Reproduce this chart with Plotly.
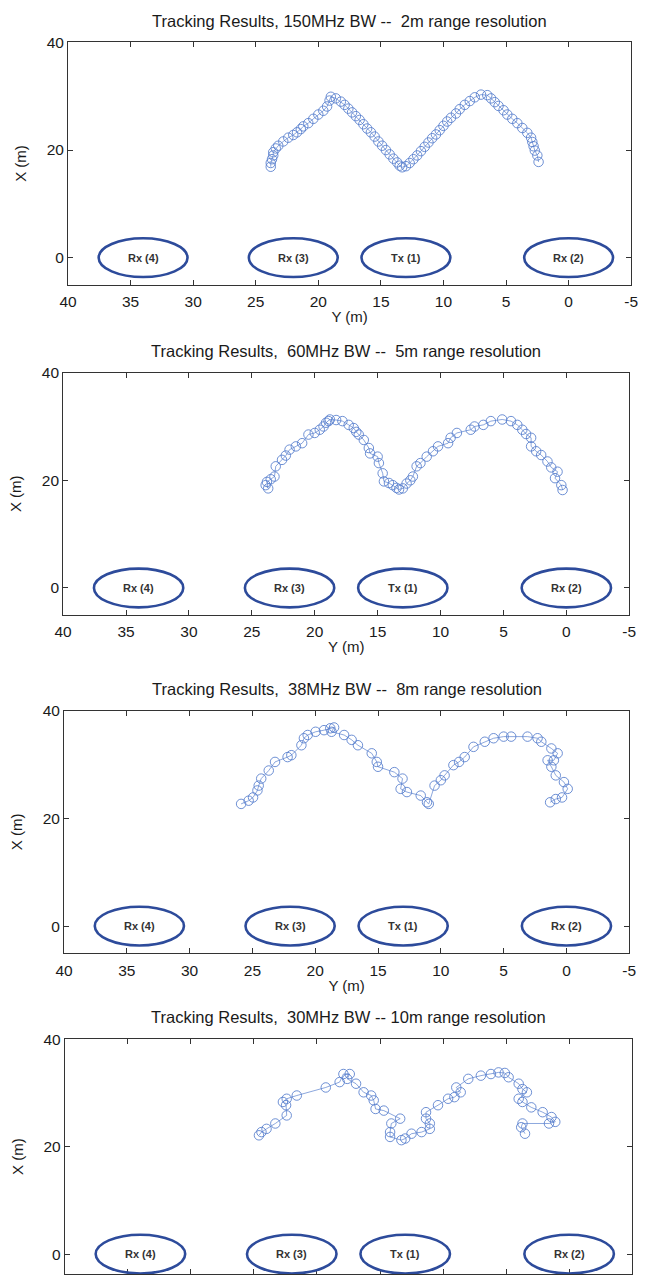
import plotly.graph_objects as go

W, H = 646, 1287

titles = [
    "Tracking Results, 150MHz BW --  2m range resolution",
    "Tracking Results,  60MHz BW --  5m range resolution",
    "Tracking Results,  38MHz BW --  8m range resolution",
    "Tracking Results,  30MHz BW -- 10m range resolution",
]

# Node (antenna) positions: Y coordinate (m), X coordinate (m), labels
node_labels = ["Rx (4)", "Rx (3)", "Tx (1)", "Rx (2)"]
node_y = [34.0, 22.0, 13.0, 0.0]
node_x = [0.0, 0.0, 0.0, 0.0]
node_half_w = 3.55
node_half_h = 3.6

x_ticks = [40, 35, 30, 25, 20, 15, 10, 5, 0, -5]
y_ticks = [0, 20, 40]

# Track 1: 150 MHz
t1_y = [23.8, 23.8, 23.7, 23.6, 23.6, 23.4, 23.2, 22.8, 22.4, 22.0, 21.7, 21.4, 21.2, 20.8, 20.4, 20.0, 19.6, 19.3, 19.1, 19.0,
        18.6, 18.2, 17.9, 17.6, 17.3, 17.0, 16.7, 16.4, 16.1, 15.8, 15.5, 15.2, 14.9, 14.6, 14.3, 14.0, 13.7, 13.5, 13.3,
        13.0, 12.7, 12.4, 12.1, 11.8, 11.5, 11.2, 10.9, 10.6, 10.3, 10.0, 9.7, 9.4, 9.0, 8.7, 8.3, 7.9, 7.5, 7.0, 6.5,
        6.2, 5.9, 5.6, 5.2, 4.9, 4.5, 4.1, 3.7, 3.3, 3.0, 2.9, 2.8, 2.7, 2.5, 2.4]
t1_x = [16.9, 17.6, 18.3, 19.0, 19.6, 20.3, 20.8, 21.6, 22.3, 22.8, 23.3, 23.9, 24.4, 25.0, 25.8, 26.6, 27.3, 28.1, 29.2, 29.9,
        29.6, 29.0, 28.4, 27.7, 27.0, 26.3, 25.6, 24.8, 24.0, 23.3, 22.5, 21.6, 20.8, 20.0, 19.2, 18.4, 17.7, 17.1, 16.8,
        17.0, 17.6, 18.3, 19.0, 19.8, 20.6, 21.4, 22.2, 22.9, 23.7, 24.5, 25.3, 26.0, 26.8, 27.6, 28.4, 29.1, 29.8, 30.3, 30.2,
        29.6, 28.9, 28.2, 27.4, 26.6, 25.8, 25.0, 24.1, 23.2, 22.3, 21.5, 20.7, 19.9, 19.0, 17.8]

# Track 2: 60 MHz
t2_y = [23.9, 23.7, 23.8, 23.5, 23.2, 23.1, 22.6, 22.3, 22.0, 21.5, 21.0, 20.5, 20.0, 19.6, 19.3, 19.1, 18.9, 18.8,
        18.3, 17.8, 17.3, 16.9, 16.7, 16.5, 16.1, 15.7, 15.6, 15.0, 14.9, 14.6, 14.5, 14.1, 13.8, 13.5, 13.3, 13.0,
        12.7, 12.4, 12.2, 11.9, 11.6, 11.1, 10.6, 10.2, 9.4, 9.2, 8.7, 7.6, 7.3, 6.6, 6.0, 5.1, 4.4, 3.9, 3.5, 3.2,
        2.8, 2.8, 2.4, 2.0, 1.5, 1.2, 0.7, 0.9, 0.4, 0.3]
t2_x = [19.1, 18.5, 19.7, 20.2, 20.7, 22.6, 23.8, 24.6, 25.7, 26.3, 26.9, 28.5, 28.8, 29.4, 30.0, 30.7, 31.0, 31.3,
        31.2, 31.0, 30.3, 29.7, 29.0, 28.5, 27.5, 26.0, 25.0, 24.4, 23.2, 21.3, 19.8, 19.5, 19.1, 18.6, 18.3, 18.5,
        19.4, 20.0, 20.7, 22.6, 23.2, 24.4, 25.4, 26.3, 26.9, 27.9, 28.8, 29.4, 30.0, 30.3, 31.0, 31.3, 31.0, 30.3, 29.4, 28.6,
        27.9, 26.3, 25.4, 24.7, 23.5, 22.4, 21.6, 20.4, 19.1, 18.2]

# Track 3: 38 MHz
t3_y = [25.9, 25.3, 24.95, 24.6, 24.5, 24.3, 23.7, 23.2, 22.2, 21.9, 21.1, 20.9, 20.6, 19.97, 19.3, 18.8, 18.5, 18.7,
        17.7, 17.1, 16.6, 15.5, 15.1, 15.0, 13.7, 13.05, 13.2, 12.7, 11.6, 11.1, 10.96,
        10.5, 10.0, 9.7, 9.0, 8.55, 8.1, 7.4, 6.5, 5.8, 5.0, 4.4, 3.1, 2.3, 2.0, 1.2, 0.7, 1.0, 1.5, 1.2, 0.85, 0.2, -0.1,
        0.35, 0.85, 1.3]
t3_x = [22.7, 23.3, 23.9, 25.2, 26.1, 27.4, 28.9, 30.5, 31.4, 31.75, 33.6, 34.9, 35.5, 36.1, 36.4, 36.75, 36.9, 36.1,
        35.5, 34.6, 33.6, 32.1, 30.5, 29.6, 28.6, 27.4, 25.5, 24.9, 24.25, 23.0, 22.7,
        26.1, 27.1, 28.0, 29.9, 30.5, 31.4, 33.3, 34.25, 34.9, 35.2, 35.2, 35.2, 34.9, 34.25, 33.0, 32.1, 30.8, 30.8, 29.6, 28.0, 26.75, 25.5,
        23.9, 23.6, 23.0]

# Track 4: 30 MHz
t4_y = [24.6, 24.4, 24.0, 23.3, 22.4, 22.45, 22.7, 22.4, 21.6, 19.3, 18.2, 17.9, 17.4, 17.6, 16.9, 16.3, 15.7, 15.5, 15.35,
        14.7, 13.4, 14.1, 14.2, 14.2, 13.3, 13.0, 12.5, 11.7, 11.05, 11.05, 11.35, 11.35, 10.4, 9.6, 9.1, 8.6, 8.95,
        8.0, 7.0, 6.2, 5.6, 5.1, 4.8, 4.0, 3.7, 3.35, 4.0, 3.7, 3.0, 2.1, 1.4, 1.1, 1.6, 3.7, 3.8, 3.5]
t4_x = [22.1, 22.7, 23.3, 24.3, 25.8, 27.7, 28.3, 28.9, 29.5, 31.0, 32.0, 33.5, 33.5, 32.6, 31.7, 30.1, 29.5, 28.6, 27.0,
        26.7, 25.2, 24.3, 22.7, 21.8, 21.2, 21.5, 22.4, 22.7, 23.3, 24.3, 25.2, 26.4, 27.7, 28.9, 29.2, 30.1, 31.0,
        32.6, 33.2, 33.5, 33.8, 33.7, 32.9, 31.7, 30.7, 30.1, 28.9, 28.3, 27.3, 26.4, 25.5, 24.6, 24.3, 24.3, 23.6, 22.4]

tracks = [(t1_y, t1_x), (t2_y, t2_x), (t3_y, t3_x), (t4_y, t4_x)]

# Layout geometry (pixels): left, right, top, bottom of each plot box, and lower y limit
boxes = [
    (60.5, 638.0, 34.0, 280.4, -5.0),
    (55.5, 636.0, 370.0, 616.4, -5.0),
    (56.4, 636.0, 714.0, 960.4, -5.0),
    (57.2, 639.0, 1048.0, 1287.0, -3.7),
]

FONT = "Liberation Sans, Arial, sans-serif"
track_color = "rgba(85,125,205,0.85)"
node_color = "#2d4b9b"
axis_color = "#333333"
text_color = "#1a1a1a"

fig = go.Figure()
layout = dict(
    width=W, height=H,
    margin=dict(l=0, r=0, t=0, b=0),
    paper_bgcolor="white", plot_bgcolor="white",
    showlegend=False,
    font=dict(family=FONT, color=text_color),
)
annotations = []
shapes = []

for i, ((ty, tx), (l, r, t, b, ylo)) in enumerate(zip(tracks, boxes)):
    k = "" if i == 0 else str(i + 1)
    xa, ya = "x" + k, "y" + k
    fig.add_trace(go.Scatter(
        x=ty, y=tx, xaxis=xa, yaxis=ya, mode="lines+markers",
        line=dict(color=track_color, width=0.8),
        marker=dict(symbol="circle-open", size=9.5, color=track_color, line=dict(width=1)),
        hoverinfo="skip",
    ))
    last = i == 3
    layout["xaxis" + k] = dict(
        domain=[l / W, r / W], anchor=ya, range=[40, -5],
        tickmode="array", tickvals=x_ticks, ticktext=[str(v) for v in x_ticks],
        ticks="inside", ticklen=5, tickcolor=axis_color, mirror="ticks",
        showline=True, linecolor=axis_color, linewidth=1, showgrid=False, zeroline=False,
        showticklabels=not last, ticklabelstandoff=3,
        tickfont=dict(size=15.5, color=text_color, family=FONT),
        title=dict(text="" if last else "Y (m)", font=dict(size=15, color=text_color, family=FONT), standoff=2),
        fixedrange=True,
    )
    layout["yaxis" + k] = dict(
        domain=[1 - b / H, 1 - t / H], anchor=xa, range=[ylo, 40],
        tickmode="array", tickvals=y_ticks, ticktext=[str(v) for v in y_ticks],
        ticks="inside", ticklen=5, tickcolor=axis_color, mirror="ticks",
        showline=True, linecolor=axis_color, linewidth=1, showgrid=False, zeroline=False,
        tickfont=dict(size=15.5, color=text_color, family=FONT),
        title=dict(text="X (m)", font=dict(size=15, color=text_color, family=FONT), standoff=16),
        fixedrange=True,
    )
    annotations.append(dict(
        text=titles[i], xref="paper", yref="paper",
        x=((l + r) / 2) / W, y=1 - (t - 11) / H, xanchor="center", yanchor="bottom",
        showarrow=False, font=dict(size=16.5, color=text_color, family=FONT),
    ))
    for lab, cy, cx in zip(node_labels, node_y, node_x):
        shapes.append(dict(
            type="circle", xref=xa, yref=ya,
            x0=cy - node_half_w, x1=cy + node_half_w,
            y0=cx - node_half_h, y1=cx + node_half_h,
            line=dict(color=node_color, width=2.6), layer="above",
        ))
        annotations.append(dict(
            text="<b>" + lab + "</b>", xref=xa, yref=ya, x=cy, y=cx,
            showarrow=False, xanchor="center", yanchor="middle",
            font=dict(size=11, color="#333333", family=FONT),
        ))

layout["annotations"] = annotations
layout["shapes"] = shapes
fig.update_layout(**layout)
fig.write_html("out.html")
